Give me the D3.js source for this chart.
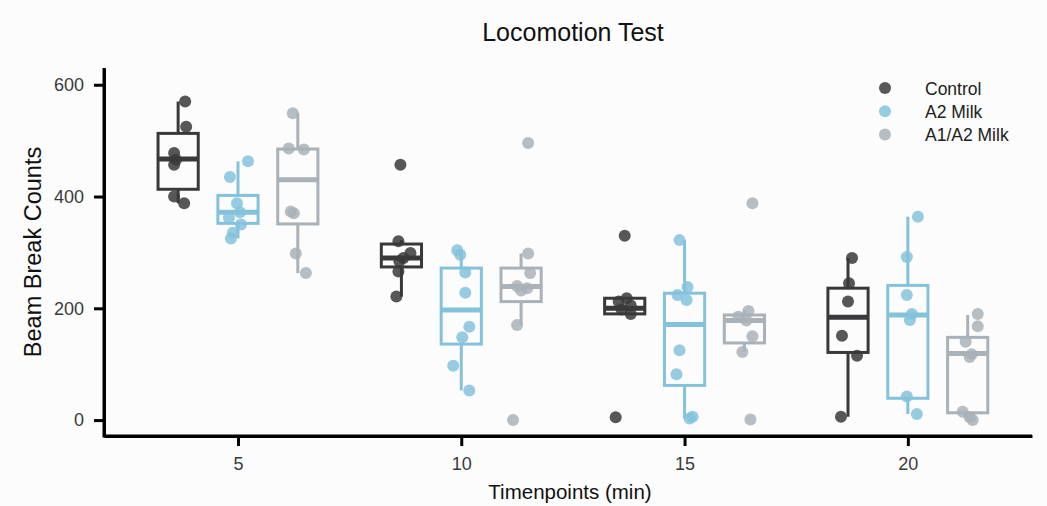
<!DOCTYPE html>
<html><head><meta charset="utf-8">
<script src="https://cdn.jsdelivr.net/npm/d3@7"></script>
<style>body{margin:0;background:#fcfcfc;}svg{display:block;font-family:"Liberation Sans",Arial,sans-serif;}</style>
</head><body><svg id="c" width="1047" height="506"></svg>
<script>
const timepoints = [5, 10, 15, 20];
const groups = ["Control", "A2 Milk", "A1/A2 Milk"];
const colors = ["#39393b", "#84c2dc", "#a9b1b9"];
const yTicks = [0, 200, 400, 600];

// box stats per group per timepoint: [whiskerLow, q1, median, q3, whiskerHigh]
const boxControl = [[388, 413, 467, 513, 570], [221, 274, 290, 315, 322], [188, 190, 200, 218, 220], [6, 121, 184, 236, 290]];
const boxA2 = [[325, 352, 372, 402, 463], [53, 136, 197, 272, 304], [3, 62, 171, 227, 322], [11, 39, 188, 241, 364]];
const boxA1A2 = [[263, 351, 430, 485, 549], [170, 212, 239, 272, 298], [122, 138, 178, 188, 197], [0, 13, 119, 148, 188]];

// individual points per group per timepoint
const ptsControl = [[570, 525, 478, 466, 457, 400, 388], [457, 320, 299, 290, 284, 266, 221], [330, 218, 212, 205, 198, 190, 5], [290, 245, 212, 151, 115, 6]];
const ptsA2 = [[463, 435, 388, 372, 362, 350, 335, 325], [304, 296, 264, 228, 167, 148, 97, 53], [322, 238, 224, 215, 125, 82, 6, 3], [364, 292, 224, 190, 179, 42, 11]];
const ptsA1A2 = [[549, 486, 484, 373, 370, 298, 263], [496, 298, 263, 240, 236, 232, 170, 0], [388, 195, 185, 178, 150, 122, 1], [190, 168, 140, 118, 113, 15, 5, 0]];
// horizontal jitter, as a fraction of half the box width
const jitControl = [[.35, .4, -.2, -.1, -.2, -.2, .3], [-.05, -.15, .45, .1, -.1, -.15, -.25], [0, .1, -.3, .3, -.15, .3, -.45], [.2, .05, 0, -.3, .45, -.35]];
const jitA2 = [[.5, -.4, -.05, .1, -.45, .15, -.25, -.35], [-.2, -.05, .2, .2, .4, .05, -.4, .4], [-.25, .15, -.35, .1, -.25, -.4, .4, .25], [.5, -.05, -.05, .2, .1, -.05, .45]];
const jitA1A2 = [[-.25, -.45, .3, -.35, -.2, -.1, .4], [.35, .35, .45, -.2, .3, 0, -.2, -.4], [.4, .2, -.3, .1, .4, -.1, .3], [.5, .5, -.1, .2, .1, -.25, .1, .25]];

const boxes = [boxControl, boxA2, boxA1A2];
const pts = [ptsControl, ptsA2, ptsA1A2];
const jits = [jitControl, jitA2, jitA1A2];
const groupOffset = [-1.34, 0, 1.34]; // in minutes
const boxW = 0.9; // in minutes

const svg = d3.select("#c");
const x = d3.scaleLinear().domain([2, 22.78]).range([104, 1032]);
const y = d3.scaleLinear().domain([-28.5, 630]).range([436, 68]);

// axes
const xAx = svg.append("g").attr("transform", "translate(0,436)")
  .call(d3.axisBottom(x).tickValues(timepoints).tickSize(10).tickPadding(11).tickSizeOuter(0));
const yAx = svg.append("g").attr("transform", "translate(104,0)")
  .call(d3.axisLeft(y).tickValues(yTicks).tickSize(10).tickPadding(10).tickSizeOuter(0));
[xAx, yAx].forEach(a => {
  a.select(".domain").attr("stroke", "#000").attr("stroke-width", 3);
  a.selectAll(".tick line").attr("stroke", "#000").attr("stroke-width", 3);
  a.selectAll(".tick text").attr("fill", "#3a3a3a").attr("font-size", 18).attr("font-family", "Liberation Sans, Arial, sans-serif");
});
// square corner
svg.append("path").attr("d", `M${x(2)},${y(630)}V${y(-28.5)}H${x(22.78)}`)
  .attr("fill", "none").attr("stroke", "#000").attr("stroke-width", 3);

// boxes
const hw = (x(boxW) - x(0)) / 2;
groups.forEach((g, gi) => {
  const col = colors[gi];
  const gg = svg.append("g");
  timepoints.forEach((t, ti) => {
    const [lo, q1, md, q3, hi] = boxes[gi][ti];
    const cx = x(t + groupOffset[gi]);
    gg.append("line").attr("x1", cx).attr("x2", cx).attr("y1", y(q3)).attr("y2", y(hi)).attr("stroke", col).attr("stroke-width", 3);
    gg.append("line").attr("x1", cx).attr("x2", cx).attr("y1", y(q1)).attr("y2", y(lo)).attr("stroke", col).attr("stroke-width", 3);
    gg.append("rect").attr("x", cx - hw).attr("width", 2 * hw).attr("y", y(q3)).attr("height", y(q1) - y(q3))
      .attr("fill", "none").attr("stroke", col).attr("stroke-width", 3);
    gg.append("line").attr("x1", cx - hw).attr("x2", cx + hw).attr("y1", y(md)).attr("y2", y(md)).attr("stroke", col).attr("stroke-width", 5);
  });
});
// points
groups.forEach((g, gi) => {
  timepoints.forEach((t, ti) => {
    const cx = x(t + groupOffset[gi]);
    svg.append("g").selectAll("circle").data(pts[gi][ti]).join("circle")
      .attr("cx", (d, i) => cx + jits[gi][ti][i] * hw)
      .attr("cy", d => y(d)).attr("r", 6)
      .attr("fill", colors[gi]).attr("opacity", 0.85);
  });
});

// title & labels
svg.append("text").attr("x", 573).attr("y", 41).attr("text-anchor", "middle").attr("font-size", 25).attr("fill", "#111").text("Locomotion Test");
svg.append("text").attr("x", 570).attr("y", 499).attr("text-anchor", "middle").attr("font-size", 20.5).attr("fill", "#111").text("Timenpoints (min)");
svg.append("text").attr("transform", "translate(41,252) rotate(-90)").attr("text-anchor", "middle").attr("font-size", 23.5).attr("fill", "#111").text("Beam Break Counts");

// legend
const leg = svg.append("g");
groups.forEach((g, gi) => {
  leg.append("circle").attr("cx", 885).attr("cy", 88 + gi * 23.3).attr("r", 6).attr("fill", colors[gi]).attr("opacity", 0.85);
  leg.append("text").attr("x", 925).attr("y", 94.5 + gi * 23.3).attr("font-size", 17.5).attr("fill", "#222").text(g);
});
</script></body></html>
